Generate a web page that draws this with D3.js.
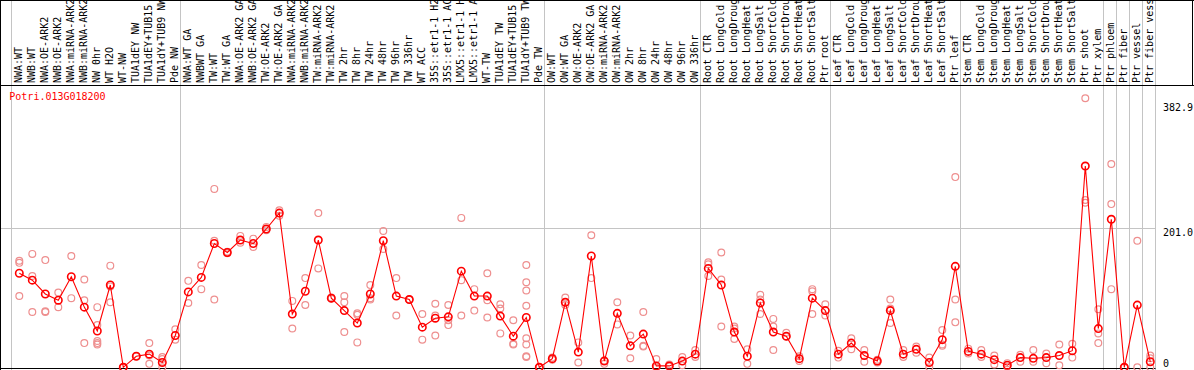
<!DOCTYPE html>
<html>
<head>
<meta charset="utf-8">
<script src="https://cdn.jsdelivr.net/npm/d3@7/dist/d3.min.js"></script>
<style>
  html, body { margin: 0; padding: 0; background: #fff; }
  svg { display: block; }
  text { font-family: "DejaVu Sans Mono", "Liberation Mono", monospace; font-size: 10px; }
</style>
</head>
<body>
<svg id="chart" width="1194" height="370"></svg>
<script>
const geneName = "Potri.013G018200";

const categories = [
  "NWA:WT", "NWB:WT", "NWA:OE-ARK2", "NWB:OE-ARK2", "NWA:miRNA-ARK2", "NWB:miRNA-ARK2",
  "NW 0hr", "WT H2O", "WT-NW", "TUA1dEY NW", "TUA1dEY+TUB15 NW", "TUA1dY+TUB9 NW", "Pde NW",
  "NWA:WT GA", "NWBWT GA", "TW:WT", "TW:WT GA", "NWA:OE-ARK2 GA", "NWB:OE-ARK2 GA",
  "TW:OE-ARK2", "TW:OE-ARK2 GA", "NWA:miRNA-ARK2 GA", "NWB:miRNA-ARK2 GA", "TW:miRNA-ARK2",
  "TW:miRNA-ARK2 GA", "TW 2hr", "TW 8hr", "TW 24hr", "TW 48hr", "TW 96hr", "TW 336hr",
  "WT ACC", "35S::etr1-1 H2O", "35S::etr1-1 ACC", "LMX5::etr1-1 H2O", "LMX5::etr1-1 ACC",
  "WT-TW", "TUA1dEY TW", "TUA1dEY+TUB15 TW", "TUA1dY+TUB9 TW", "Pde TW",
  "OW:WT", "OW:WT GA", "OW:OE-ARK2", "OW:OE-ARK2 GA", "OW:miRNA-ARK2", "OW:miRNA-ARK2 GA",
  "OW 2hr", "OW 8hr", "OW 24hr", "OW 48hr", "OW 96hr", "OW 336hr",
  "Root CTR", "Root LongCold", "Root LongDrought", "Root LongHeat", "Root LongSalt",
  "Root ShortCold", "Root ShortDrought", "Root ShortHeat", "Root ShortSalt", "Ptr root",
  "Leaf CTR", "Leaf LongCold", "Leaf LongDrought", "Leaf LongHeat", "Leaf LongSalt",
  "Leaf ShortCold", "Leaf ShortDrought", "Leaf ShortHeat", "Leaf ShortSalt", "Ptr leaf",
  "Stem CTR", "Stem LongCold", "Stem LongDrought", "Stem LongHeat", "Stem LongSalt",
  "Stem ShortCold", "Stem ShortDrought", "Stem ShortHeat", "Stem ShortSalt", "Ptr shoot",
  "Ptr xylem", "Ptr phloem", "Ptr fiber", "Ptr vessel", "Ptr fiber vessel"
];

const means = [
  136, 126, 106, 97, 131, 87, 52.5, 119, 0, 16, 19, 7, 46,
  109, 130, 179, 166, 184, 179, 200, 223, 77, 110, 184, 100, 82, 64, 106, 183, 103, 98,
  58, 71, 73, 139, 103, 103, 74, 45, 72, 0,
  12.5, 94, 22, 161, 9, 78, 31, 48, 2, 2, 9, 19,
  143, 119, 51, 16, 93, 51, 45, 12.5, 100, 82,
  19, 35, 17, 9, 82, 19, 26, 7, 40, 146,
  23, 19, 11, 3, 14, 13, 14, 17, 24, 291, 56,
  214, 0, 90, 8
];

const replicates = [
  [154, 151, 103], [164, 132, 80], [155, 81, 80], [108, 87], [161, 100], [127, 97, 35],
  [87, 61, 38, 35, 33], [147, 117, 94], [0, 0], [16, 16], [35, 17, 5], [15, 12, 0], [55, 40],
  [125, 93], [148, 113], [258, 183, 98], [167, 165], [190, 180], [186, 174], [203, 198],
  [227, 219], [96, 56], [129, 90], [223, 143], [101, 99], [103, 94, 51], [78, 76, 36],
  [119, 100, 98], [197, 171], [129, 75], [98, 98], [77, 40], [92, 75, 46], [90, 68, 61],
  [216, 126, 75], [113, 82], [136, 97, 72], [91, 85, 49], [68, 34, 33],
  [148, 123, 111, 89, 42, 33, 16, 15], [0, 0],
  [14, 11], [101, 90], [36, 7], [191, 129], [10, 5], [94, 62], [46, 13], [80, 31, 30],
  [12, 0, 0], [4, 1], [15, 3], [25, 15],
  [152, 149, 132], [166, 127, 59], [59, 56, 41], [26, 5], [105, 98, 77], [70, 59, 25],
  [50, 44], [16, 9], [113, 110, 77], [91, 75],
  [24, 14], [42, 26], [25, 8], [11, 7], [98, 85, 64], [25, 15], [30, 21], [14, 0],
  [54, 33, 31], [275, 98, 65],
  [27, 20], [25, 15], [17, 4], [6, 1], [18, 8], [25, 8], [20, 6], [33, 3], [34, 14],
  [389, 242, 238], [84, 49, 35],
  [294, 236, 113], [0, 0], [183, 0], [17, 13, 0]
];

const groupStarts = ["NWA:WT", "NWA:WT GA", "OW:WT", "Root CTR", "Leaf CTR", "Stem CTR",
  "Ptr phloem", "Ptr fiber", "Ptr vessel", "Ptr fiber vessel"];

const yTicks = [0, 201.0, 382.9];
const gridTicks = [201.0];

const W = 1194, H = 370;
const headerBottom = 85.5;
const plotBottom = 368.5;

const svg = d3.select("#chart");

const x = d3.scaleBand().domain(d3.range(categories.length)).range([10.7, 1154.7]).paddingInner(0).paddingOuter(0);
const px = i => x(i) + 8.6;
const y = d3.scaleLinear().domain([0, 382.9]).range([367.3, 102.5]);

const crisp = v => Math.round(v) + 0.5;
const plotRight = x.range()[1];

// gray separators
const sepIdx = groupStarts.map(n => categories.indexOf(n));
svg.append("g").selectAll("line").data(sepIdx.map(i => x(i)).concat([plotRight]))
  .join("line")
  .attr("x1", d => crisp(d)).attr("x2", d => crisp(d))
  .attr("y1", 0).attr("y2", H)
  .attr("stroke", "#c4c4c4").attr("stroke-width", 1);

// horizontal grid
svg.append("g").selectAll("line").data(gridTicks).join("line")
  .attr("x1", 0).attr("x2", crisp(plotRight))
  .attr("y1", d => crisp(y(d) - 0.5)).attr("y2", d => crisp(y(d) - 0.5))
  .attr("stroke", "#c4c4c4").attr("stroke-width", 1);

// frame lines
const frame = svg.append("g").attr("stroke", "#000").attr("stroke-width", 1);
frame.append("line").attr("x1", 0).attr("x2", W).attr("y1", 0.5).attr("y2", 0.5);
frame.append("line").attr("x1", 0).attr("x2", W).attr("y1", headerBottom).attr("y2", headerBottom);
frame.append("line").attr("x1", 0.5).attr("x2", 0.5).attr("y1", 0).attr("y2", H);
frame.append("line").attr("x1", W - 1.5).attr("x2", W - 1.5).attr("y1", 0).attr("y2", headerBottom);
frame.append("line").attr("x1", 0).attr("x2", crisp(plotRight)).attr("y1", plotBottom).attr("y2", plotBottom);

// category labels (rotated)
svg.append("g").selectAll("text").data(categories).join("text")
  .attr("transform", (d, i) => `translate(${px(i) + 2.4},83) rotate(-90)`)
  .attr("text-anchor", "start")
  .attr("fill", "#000")
  .text(d => d);

// gene name
svg.append("text").attr("x", 9.3).attr("y", 100.3).attr("fill", "#ff0000").text(geneName);

// right axis
const axis = d3.axisRight(y).tickValues(yTicks).tickSize(0).tickFormat(d => d === 0 ? "0" : d3.format(".1f")(d));
const ag = svg.append("g").attr("transform", "translate(1163,0)").call(axis);
ag.select(".domain").remove();
ag.selectAll("text")
  .attr("x", 0).attr("text-anchor", "start")
  .attr("font-family", "DejaVu Sans Mono").attr("font-size", 10).attr("fill", "#000")
  .attr("dy", d => d === 0 ? "-0.12em" : "0.76em");

// replicate points
const repData = [];
replicates.forEach((arr, i) => arr.forEach(v => repData.push({i, v})));
svg.append("g").selectAll("circle").data(repData).join("circle")
  .attr("cx", d => px(d.i)).attr("cy", d => y(d.v)).attr("r", 3.4)
  .attr("fill", "none").attr("stroke", "#ee8f8f").attr("stroke-width", 1.2);

// mean line
const line = d3.line().x((d, i) => px(i)).y(d => y(d));
svg.append("path").datum(means).attr("d", line)
  .attr("fill", "none").attr("stroke", "#ff0000").attr("stroke-width", 1.1);

// mean points
svg.append("g").selectAll("circle").data(means).join("circle")
  .attr("cx", (d, i) => px(i)).attr("cy", d => y(d)).attr("r", 3.7)
  .attr("fill", "none").attr("stroke", "#ff0000").attr("stroke-width", 1.6);
</script>
</body>
</html>
